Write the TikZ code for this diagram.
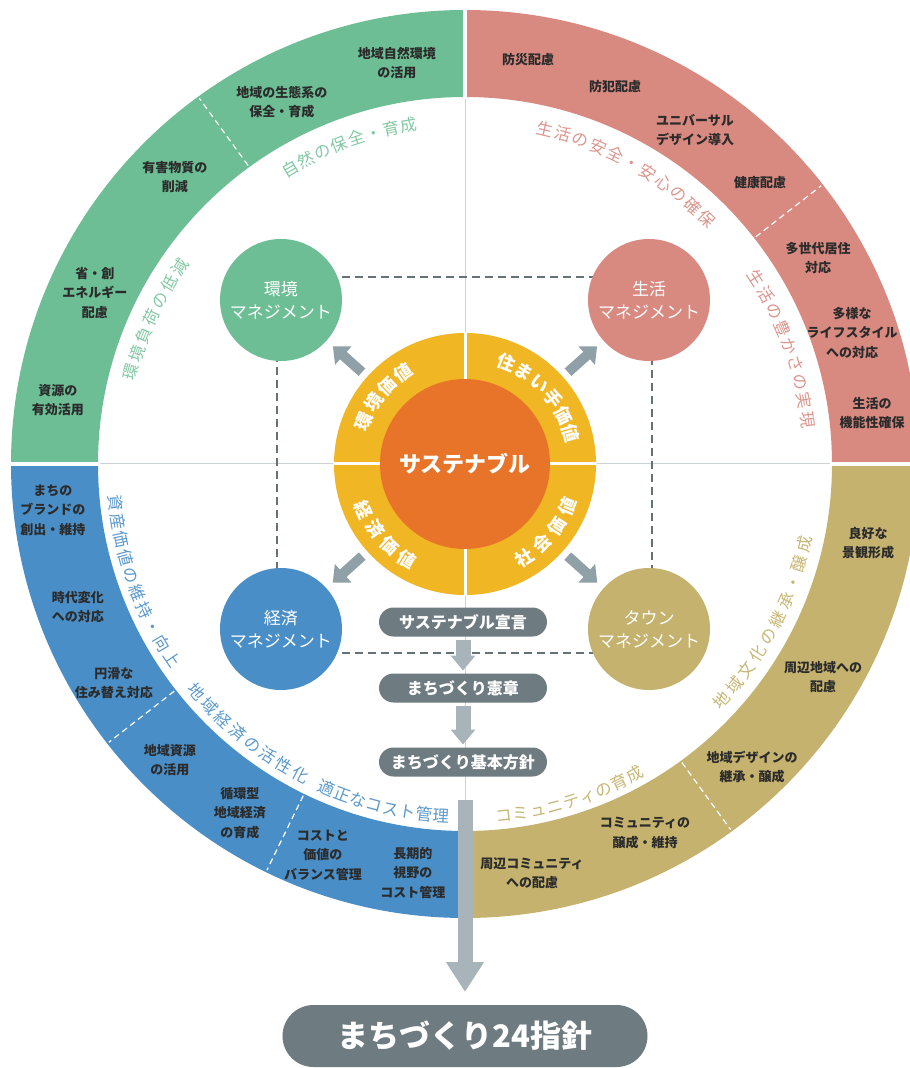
\documentclass[tikz,border=0pt]{standalone}
\usepackage{fontspec}
\setmainfont{Noto Sans CJK JP}
\usetikzlibrary{arrows.meta,decorations.text}

\definecolor{envgreen}{HTML}{6DBE94}
\definecolor{lifepink}{HTML}{D88980}
\definecolor{ecoblue}{HTML}{4A8EC7}
\definecolor{towngold}{HTML}{C4B26E}
\definecolor{valueyellow}{HTML}{F1B624}
\definecolor{coreorange}{HTML}{E77428}
\definecolor{flowgray}{HTML}{6E7B80}
\definecolor{arrowgray}{HTML}{8FA0A7}
\definecolor{steelgray}{HTML}{A8B4B9}
\definecolor{linegray}{HTML}{CDD3D5}
\definecolor{dashgray}{HTML}{667176}
\definecolor{itemdark}{HTML}{2B2B2B}

\newcommand\itemfont{\fontsize{13}{19.5}\selectfont\bfseries}
\newcommand\arcfont{\fontsize{16.5}{16.5}\selectfont}
\newcommand\valuefont{\fontsize{18}{18}\selectfont\bfseries}
\newcommand\mgmtfont{\fontsize{17}{23}\selectfont}

\begin{document}
\begin{tikzpicture}[x=1pt, y=1pt,
  item/.style={align=center, font=\itemfont, text=itemdark, inner sep=0pt},
  mgmt/.style={circle, minimum size=122pt, inner sep=0pt, outer sep=0pt,
    align=center, font=\mgmtfont, text=white},
  flowbox/.style={rounded corners=14.5pt, fill=flowgray, minimum width=168pt,
    minimum height=29pt, inner sep=0pt, outer sep=0pt,
    font=\fontsize{16}{16}\selectfont\bfseries, text=white},
  valuearrow/.style={draw=arrowgray, line width=10pt,
    -{Triangle[width=24pt,length=14pt]}, shorten <=7pt, shorten >=8.5pt},
  steparrow/.style={draw=steelgray, line width=15pt,
    -{Triangle[width=24pt,length=15pt]}, shorten <=3pt, shorten >=3pt},
  sepline/.style={white, line width=1.2pt, dash pattern=on 6pt off 4pt},
  arclabel/.style={decorate, decoration={text along path, text align={fit to path}}}
  ]
  \useasboundingbox (-465,-604) rectangle (445,464);

  % cross lines and dashed square
  \draw[linegray, line width=1pt] (-454,0) -- (454,0);
  \draw[linegray, line width=1pt] (0,454) -- (0,-454);
  \coordinate (sq-nw) at (-188,187);
  \coordinate (sq-ne) at (187,187);
  \coordinate (sq-se) at (187,-189);
  \coordinate (sq-sw) at (-188,-189);
  \draw[dashgray, line width=2pt, dash pattern=on 8pt off 5pt]
    (sq-nw) -- (sq-ne) -- (sq-se) -- (sq-sw) -- cycle;

  % outer ring
  \fill[envgreen] (90:454) arc (90:180:454) -- (180:367) arc (180:90:367) -- cycle;
  \fill[lifepink] (0:454) arc (0:90:454) -- (90:367) arc (90:0:367) -- cycle;
  \fill[ecoblue] (180:454) arc (180:270:454) -- (270:367) arc (270:180:367) -- cycle;
  \fill[towngold] (270:454) arc (270:360:454) -- (360:367) arc (360:270:367) -- cycle;
  \draw[white, line width=4pt] (0:365) -- (0:456);
  \draw[white, line width=4pt] (90:365) -- (90:456);
  \draw[white, line width=4pt] (180:365) -- (180:456);
  \draw[white, line width=4pt] (270:365) -- (270:456);

  \draw[sepline] (126:369) -- (126:452);
  \draw[sepline] (38:369) -- (38:452);
  \draw[sepline] (218:369) -- (218:452);
  \draw[sepline] (244:369) -- (244:452);
  \draw[sepline] (306:369) -- (306:452);

  % ring items
  \node[item] (env1) at (-68,401) {地域自然環境\\の活用};
  \node[item] (env2) at (-183,362) {地域の生態系の\\保全・育成};
  \node[item] (env3) at (-290,287) {有害物質の\\削減};
  \node[item] (env4) at (-370,171) {省・創\\エネルギー\\配慮};
  \node[item] (env5) at (-407,64) {資源の\\有効活用};

  \node[item] (life1) at (63,404) {防災配慮};
  \node[item] (life2) at (150,377) {防犯配慮};
  \node[item] (life3) at (230,334) {ユニバーサル\\デザイン導入};
  \node[item] (life4) at (295,281) {健康配慮};
  \node[item] (life5) at (353,206) {多世代居住\\対応};
  \node[item] (life6) at (387,131) {多様な\\ライフスタイル\\への対応};
  \node[item] (life7) at (407,51) {生活の\\機能性確保};

  \node[item] (eco1) at (-412,-46) {まちの\\ブランドの\\創出・維持};
  \node[item] (eco2) at (-387,-143) {時代変化\\への対応};
  \node[item] (eco3) at (-351,-219) {円滑な\\住み替え対応};
  \node[item] (eco4) at (-295,-296) {地域資源\\の活用};
  \node[item] (eco5) at (-225,-349) {循環型\\地域経済\\の育成};
  \node[item] (eco6) at (-142,-391) {コストと\\価値の\\バランス管理};
  \node[item] (eco7) at (-52,-409) {長期的\\視野の\\コスト管理};

  \node[item] (town1) at (403,-79) {良好な\\景観形成};
  \node[item] (town2) at (358,-213) {周辺地域への\\配慮};
  \node[item] (town3) at (287,-303) {地域デザインの\\継承・醸成};
  \node[item] (town4) at (180,-369) {コミュニティの\\醸成・維持};
  \node[item] (town5) at (67,-409) {周辺コミュニティ\\への配慮};

  % labels along the ring
  \path[arclabel, decoration={text color=envgreen!85, text={|\arcfont|自然の保全・育成}}]
    (122:337) arc (122:98:337);
  \path[arclabel, decoration={text color=envgreen!85, text={|\arcfont|環境負荷の低減}}]
    (166:340) arc (166:144:340);
  \path[arclabel, decoration={text color=lifepink!90, text={|\arcfont|生活の安全・安心の確保}}]
    (78:338) arc (78:44:338);
  \path[arclabel, decoration={text color=lifepink!90, text={|\arcfont|生活の豊かさの実現}}]
    (34:339) arc (34:6:339);
  \path[arclabel, decoration={text color=ecoblue!90, text={|\arcfont|資産価値の維持・向上}}]
    (185:358) arc (185:215:358);
  \path[arclabel, decoration={text color=ecoblue!90, text={|\arcfont|地域経済の活性化}}]
    (219:358) arc (219:243.5:358);
  \path[arclabel, decoration={text color=ecoblue!90, text={|\arcfont|適正なコスト管理}}]
    (245.5:359) arc (245.5:267.5:359);
  \path[arclabel, decoration={text color=towngold!95, text={|\arcfont|コミュニティの育成}}]
    (275:360) arc (275:300:360);
  \path[arclabel, decoration={text color=towngold!95, text={|\arcfont|地域文化の継承・醸成}}]
    (316:355) arc (316:348:355);

  % centre
  \node[circle, fill=valueyellow, minimum size=262pt, inner sep=0pt, outer sep=0pt] (value) at (0,0) {};
  \draw[white, line width=3pt] (-132,0) -- (132,0);
  \draw[white, line width=3pt] (0,-132) -- (0,132);
  \node[circle, fill=coreorange, minimum size=170pt, inner sep=0pt, outer sep=0pt,
    font=\fontsize{22}{22}\selectfont\bfseries, text=white] (core) at (0,0) {サステナブル};

  \path[arclabel, decoration={text color=white, text={|\valuefont|環境価値}}]
    (162:103) arc (162:119:103);
  \path[arclabel, decoration={text color=white, text={|\valuefont|住まい手価値}}]
    (73:103) arc (73:11:103);
  \path[arclabel, decoration={text color=white, text={|\valuefont|経済価値}}]
    (200:118) arc (200:243:118);
  \path[arclabel, decoration={text color=white, text={|\valuefont|社会価値}}]
    (298:118) arc (298:342:118);

  % management circles
  \node[mgmt, fill=envgreen] (env) at (-184,164) {環境\\マネジメント};
  \node[mgmt, fill=lifepink] (life) at (184,164) {生活\\マネジメント};
  \node[mgmt, fill=ecoblue] (eco) at (-184,-165) {経済\\マネジメント};
  \node[mgmt, fill=towngold] (town) at (184,-165) {タウン\\マネジメント};

  \draw[valuearrow] (value) -- (env);
  \draw[valuearrow] (value) -- (life);
  \draw[valuearrow] (value) -- (eco);
  \draw[valuearrow] (value) -- (town);

  % flow
  \node[flowbox] (decl) at (-2,-158) {サステナブル宣言};
  \node[flowbox] (charter) at (-2,-224) {まちづくり憲章};
  \node[flowbox] (plan) at (-2,-298) {まちづくり基本方針};
  \draw[steparrow] (decl) -- (charter);
  \draw[steparrow] (charter) -- (plan);

  \node[rounded corners=31pt, fill=flowgray, minimum width=365pt, minimum height=62pt,
    inner sep=0pt, outer sep=0pt, font=\fontsize{31}{31}\selectfont\bfseries, text=white]
    (guide) at (0,-572) {まちづくり24指針};
  \draw[draw=steelgray, line width=15pt, -{Triangle[width=36pt,length=30pt]},
    shorten <=23pt, shorten >=13pt] (plan.south -| guide.north) -- (guide.north);
\end{tikzpicture}
\end{document}
